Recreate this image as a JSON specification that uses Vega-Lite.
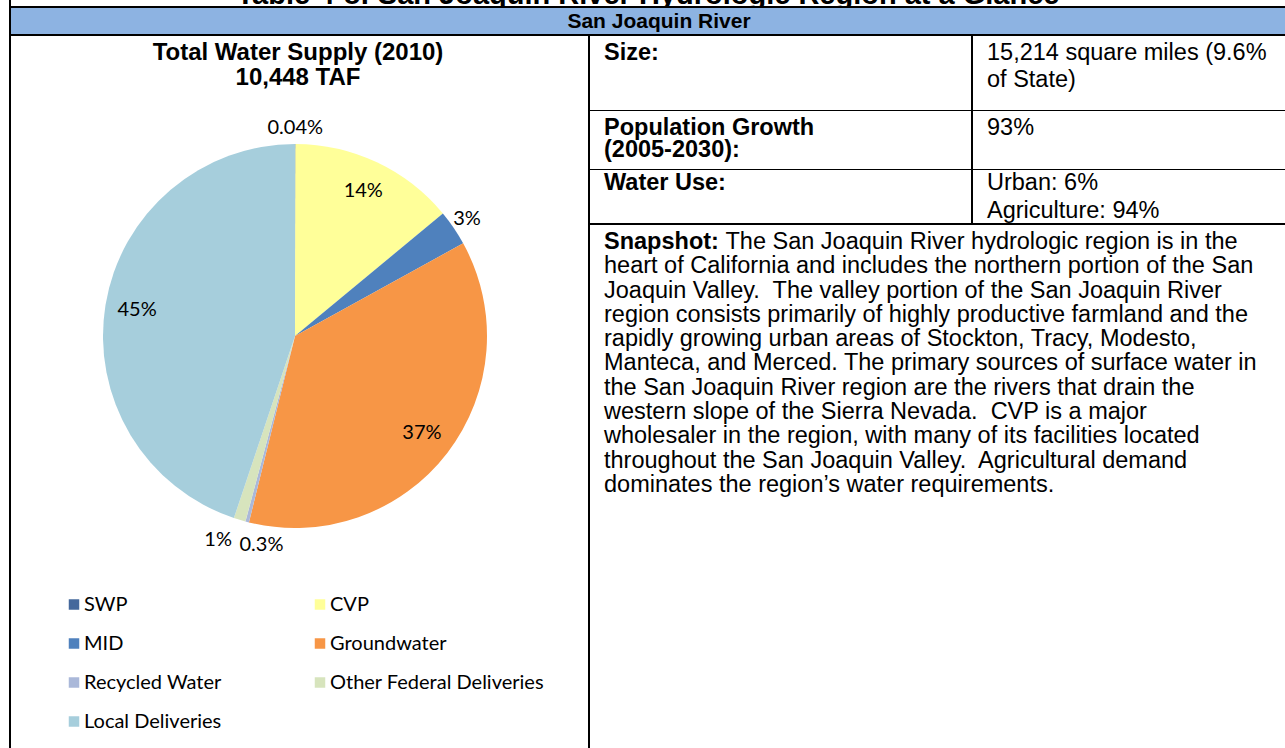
{
  "$schema": "https://vega.github.io/schema/vega-lite/v6.json",
  "background": "black",
  "padding": 0,
  "config": {"view": {"stroke": null}, "text": {"font": "Liberation Sans", "color": "black"}},
  "datasets": {
    "supply": [
      {"source": "SWP", "value": 0.04, "label": "0.04%", "seq": 1},
      {"source": "CVP", "value": 14, "label": "14%", "seq": 2},
      {"source": "MID", "value": 3, "label": "3%", "seq": 3},
      {"source": "Groundwater", "value": 37, "label": "37%", "seq": 4},
      {"source": "Recycled Water", "value": 0.3, "label": "0.3%", "seq": 5},
      {"source": "Other Federal Deliveries", "value": 1, "label": "1%", "seq": 6},
      {"source": "Local Deliveries", "value": 45, "label": "45%", "seq": 7}
    ]
  },
  "spacing": 2,
  "hconcat": [
    {
      "width": 9, "height": 748,
      "view": {"fill": "white"},
      "data": {"values": [{"m": ""}]},
      "mark": "text",
      "encoding": {"text": {"field": "m"}}
    },
    {
      "spacing": 2,
      "vconcat": [
        {
          "width": 1274, "height": 6,
          "view": {"fill": "white"},
          "data": {"values": [{"title": "Table 4-8: San Joaquin River Hydrologic Region at a Glance"}]},
          "mark": {"type": "text", "clip": true, "fontSize": 29, "fontWeight": "bold", "baseline": "alphabetic", "dy": 0.5},
          "encoding": {"text": {"field": "title"}}
        },
        {
          "width": 1274, "height": 26,
          "view": {"fill": "#8DB3E2"},
          "data": {"values": [{"region": "San Joaquin River"}]},
          "mark": {"type": "text", "fontSize": 21, "fontWeight": "bold", "baseline": "middle", "dy": 1, "dx": 11},
          "encoding": {"text": {"field": "region"}}
        },
        {
          "spacing": 2,
          "hconcat": [
            {
              "spacing": 0,
              "hconcat": [
                {
                  "spacing": 0,
                  "bounds": "flush",
                  "resolve": {"scale": {"color": "independent"}, "legend": {"color": "independent"}},
                  "vconcat": [
                    {
                      "width": 568, "height": 57,
                      "view": {"fill": "white"},
                      "data": {"values": [{"title": "Total Water Supply (2010)\n10,448 TAF"}]},
                      "mark": {"type": "text", "fontSize": 24, "fontWeight": "bold", "lineBreak": "\n", "lineHeight": 25, "baseline": "middle", "dy": -11.5, "dx": 3},
                      "encoding": {"text": {"field": "title"}}
                    },
                    {
                      "width": 568, "height": 486,
                      "view": {"fill": "white"},
                      "data": {"name": "supply"},
                      "encoding": {
                        "theta": {"field": "value", "type": "quantitative", "stack": true},
                        "order": {"field": "seq", "type": "quantitative"}
                      },
                      "layer": [
                        {
                          "mark": {"type": "arc", "radius": 192},
                          "encoding": {
                            "color": {
                              "field": "source", "type": "nominal",
                              "scale": {
                                "domain": ["SWP", "CVP", "MID", "Groundwater", "Recycled Water", "Other Federal Deliveries", "Local Deliveries"],
                                "range": ["#44689C", "#FFFF99", "#4F81BD", "#F79646", "#AAB8D9", "#D7E4BD", "#A6CEDC"]
                              },
                              "legend": null
                            }
                          }
                        },
                        {
                          "mark": {"type": "text", "radius": 160, "font": "Lato", "fontSize": 20, "baseline": "middle"},
                          "encoding": {
                            "detail": {"field": "source"},
                            "text": {"condition": {"test": "datum.value >= 10", "field": "label", "type": "nominal"}, "value": ""}
                          }
                        },
                        {
                          "mark": {"type": "text", "radius": 208, "font": "Lato", "fontSize": 20, "baseline": "middle"},
                          "encoding": {
                            "detail": {"field": "source"},
                            "text": {"condition": {"test": "datum.source === 'SWP' || datum.source === 'MID'", "field": "label", "type": "nominal"}, "value": ""}
                          }
                        },
                        {
                          "mark": {"type": "text", "radius": 211, "dx": 19, "dy": 5, "font": "Lato", "fontSize": 20, "baseline": "middle"},
                          "encoding": {
                            "detail": {"field": "source"},
                            "text": {"condition": {"test": "datum.source === 'Recycled Water'", "field": "label", "type": "nominal"}, "value": ""}
                          }
                        },
                        {
                          "mark": {"type": "text", "radius": 211, "dx": -16, "dy": 2, "font": "Lato", "fontSize": 20, "baseline": "middle"},
                          "encoding": {
                            "detail": {"field": "source"},
                            "text": {"condition": {"test": "datum.source === 'Other Federal Deliveries'", "field": "label", "type": "nominal"}, "value": ""}
                          }
                        }
                      ]
                    },
                    {
                      "width": 568, "height": 169,
                      "view": {"fill": "white"},
                      "data": {"name": "supply"},
                      "transform": [{"filter": "datum.value < 0"}],
                      "mark": {"type": "square", "opacity": 1},
                      "encoding": {
                        "color": {
                          "field": "source", "type": "nominal",
                          "scale": {
                            "domain": ["SWP", "CVP", "MID", "Groundwater", "Recycled Water", "Other Federal Deliveries", "Local Deliveries"],
                            "range": ["#44689C", "#FFFF99", "#4F81BD", "#F79646", "#AAB8D9", "#D7E4BD", "#A6CEDC"]
                          },
                          "legend": {
                            "orient": "none", "legendX": 53, "legendY": 15.5, "title": null,
                            "direction": "horizontal", "columns": 2, "gridAlign": "all",
                            "symbolType": "square", "symbolSize": 110, "symbolStrokeWidth": 0, "symbolOpacity": 1,
                            "labelFont": "Lato", "labelFontSize": 20, "labelColor": "black", "labelLimit": 300,
                            "labelOffset": 0, "rowPadding": 19, "columnPadding": 12
                          }
                        }
                      }
                    }
                  ]
                },
                {
                  "width": 9, "height": 712,
                  "view": {"fill": "white"},
                  "data": {"values": [{"m": ""}]},
                  "mark": "text",
                  "encoding": {"text": {"field": "m"}}
                }
              ]
            },
            {
              "spacing": 2,
              "vconcat": [
                {
                  "spacing": 1,
                  "vconcat": [
                    {
                      "spacing": 2, "bounds": "flush",
                      "hconcat": [
                        {
                          "width": 381, "height": 74,
                          "view": {"fill": "white"},
                          "data": {"values": [{"cell": "size", "t": "Size:"}]},
                          "mark": {"type": "text", "align": "left", "baseline": "top", "dx": 14, "dy": 5, "fontSize": 23.5, "fontWeight": "bold"},
                          "encoding": {
                            "x": {"field": "cell", "type": "nominal", "scale": {"type": "point", "padding": 0, "align": 0}, "axis": null},
                            "y": {"field": "cell", "type": "nominal", "scale": {"type": "point", "padding": 0, "align": 0}, "axis": null},
                            "text": {"field": "t"}
                          }
                        },
                        {
                          "width": 312, "height": 74,
                          "view": {"fill": "white"},
                          "data": {"values": [{"cell": "size value", "t": "15,214 square miles (9.6%\nof State)"}]},
                          "mark": {"type": "text", "align": "left", "baseline": "top", "dx": 14, "dy": 5, "fontSize": 23.5, "lineBreak": "\n", "lineHeight": 27},
                          "encoding": {
                            "x": {"field": "cell", "type": "nominal", "scale": {"type": "point", "padding": 0, "align": 0}, "axis": null},
                            "y": {"field": "cell", "type": "nominal", "scale": {"type": "point", "padding": 0, "align": 0}, "axis": null},
                            "text": {"field": "t"}
                          }
                        }
                      ]
                    },
                    {
                      "spacing": 2, "bounds": "flush",
                      "hconcat": [
                        {
                          "width": 381, "height": 58,
                          "view": {"fill": "white"},
                          "data": {"values": [{"cell": "growth", "t": "Population Growth\n(2005-2030):"}]},
                          "mark": {"type": "text", "align": "left", "baseline": "top", "dx": 14, "dy": 5, "fontSize": 23.5, "fontWeight": "bold", "lineBreak": "\n", "lineHeight": 22},
                          "encoding": {
                            "x": {"field": "cell", "type": "nominal", "scale": {"type": "point", "padding": 0, "align": 0}, "axis": null},
                            "y": {"field": "cell", "type": "nominal", "scale": {"type": "point", "padding": 0, "align": 0}, "axis": null},
                            "text": {"field": "t"}
                          }
                        },
                        {
                          "width": 312, "height": 58,
                          "view": {"fill": "white"},
                          "data": {"values": [{"cell": "growth value", "t": "93%"}]},
                          "mark": {"type": "text", "align": "left", "baseline": "top", "dx": 14, "dy": 5, "fontSize": 23.5},
                          "encoding": {
                            "x": {"field": "cell", "type": "nominal", "scale": {"type": "point", "padding": 0, "align": 0}, "axis": null},
                            "y": {"field": "cell", "type": "nominal", "scale": {"type": "point", "padding": 0, "align": 0}, "axis": null},
                            "text": {"field": "t"}
                          }
                        }
                      ]
                    },
                    {
                      "spacing": 2, "bounds": "flush",
                      "hconcat": [
                        {
                          "width": 381, "height": 53,
                          "view": {"fill": "white"},
                          "data": {"values": [{"cell": "use", "t": "Water Use:"}]},
                          "mark": {"type": "text", "align": "left", "baseline": "top", "dx": 14, "dy": 0.5, "fontSize": 23.5, "fontWeight": "bold"},
                          "encoding": {
                            "x": {"field": "cell", "type": "nominal", "scale": {"type": "point", "padding": 0, "align": 0}, "axis": null},
                            "y": {"field": "cell", "type": "nominal", "scale": {"type": "point", "padding": 0, "align": 0}, "axis": null},
                            "text": {"field": "t"}
                          }
                        },
                        {
                          "width": 312, "height": 53,
                          "view": {"fill": "white"},
                          "data": {"values": [{"cell": "use value", "t": "Urban: 6%\nAgriculture: 94%"}]},
                          "mark": {"type": "text", "align": "left", "baseline": "top", "dx": 14, "dy": 0.5, "fontSize": 23.5, "lineBreak": "\n", "lineHeight": 28},
                          "encoding": {
                            "x": {"field": "cell", "type": "nominal", "scale": {"type": "point", "padding": 0, "align": 0}, "axis": null},
                            "y": {"field": "cell", "type": "nominal", "scale": {"type": "point", "padding": 0, "align": 0}, "axis": null},
                            "text": {"field": "t"}
                          }
                        }
                      ]
                    }
                  ]
                },
                {
                  "width": 695, "height": 523,
                  "view": {"fill": "white"},
                  "data": {"values": [
                    {"cell": "snapshot", "part": "head", "t": "Snapshot:"},
                    {"cell": "snapshot", "part": "first", "t": "The San Joaquin River hydrologic region is in the"},
                    {"cell": "snapshot", "part": "body", "t": "heart of California and includes the northern portion of the San\nJoaquin Valley.\u00a0 The valley portion of the San Joaquin River\nregion consists primarily of highly productive farmland and the\nrapidly growing urban areas of Stockton, Tracy, Modesto,\nManteca, and Merced. The primary sources of surface water in\nthe San Joaquin River region are the rivers that drain the\nwestern slope of the Sierra Nevada.\u00a0 CVP is a major\nwholesaler in the region, with many of its facilities located\nthroughout the San Joaquin Valley.\u00a0 Agricultural demand\ndominates the region’s water requirements."}
                  ]},
                  "encoding": {
                    "x": {"field": "cell", "type": "nominal", "scale": {"type": "point", "padding": 0, "align": 0}, "axis": null},
                    "y": {"field": "cell", "type": "nominal", "scale": {"type": "point", "padding": 0, "align": 0}, "axis": null},
                    "text": {"field": "t"}
                  },
                  "layer": [
                    {
                      "transform": [{"filter": "datum.part === 'head'"}],
                      "mark": {"type": "text", "align": "left", "baseline": "top", "dx": 14, "dy": 5, "fontSize": 23.5, "fontWeight": "bold"}
                    },
                    {
                      "transform": [{"filter": "datum.part === 'first'"}],
                      "mark": {"type": "text", "align": "left", "baseline": "top", "dx": 135.5, "dy": 5, "fontSize": 23.5}
                    },
                    {
                      "transform": [{"filter": "datum.part === 'body'"}],
                      "mark": {"type": "text", "align": "left", "baseline": "top", "dx": 14, "dy": 29.3, "fontSize": 23.5, "lineBreak": "\n", "lineHeight": 24.3}
                    }
                  ]
                }
              ]
            }
          ]
        }
      ]
    }
  ]
}
